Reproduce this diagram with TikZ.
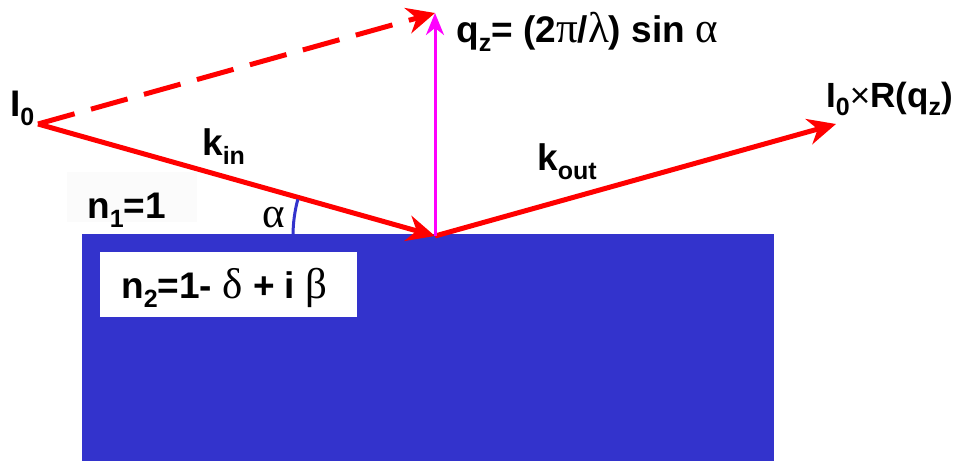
\documentclass[tikz,border=0pt]{standalone}
\usepackage{fontspec}
\setmainfont{Liberation Sans}
\newfontfamily\grk{Liberation Serif}
\usetikzlibrary{arrows.meta}
\definecolor{slab}{RGB}{51,51,204}
\definecolor{beam}{RGB}{255,0,0}
\definecolor{qvec}{RGB}{255,0,255}
\definecolor{faint}{RGB}{251,251,251}
\newcommand{\lowsub}[1]{\raisebox{-0.25em}{\fontsize{25}{25}\selectfont #1}}
\newcommand{\gk}[1]{{\grk\mdseries\fontsize{43}{43}\selectfont #1}}
\begin{document}
\begin{tikzpicture}[x=1pt,y=-1pt,
  lbl/.style={inner sep=0pt, anchor=base west, font=\fontsize{37}{42}\selectfont\bfseries},
  ray/.style={draw=beam, line width=5pt, -{Stealth[length=28pt,width=26pt,inset=9pt]}},
  qray/.style={draw=qvec, line width=3pt, -{Stealth[length=22pt,width=18pt,inset=7pt]}}]
\useasboundingbox (0,0) rectangle (956,461);
% media
\fill[slab] (82,234) rectangle (774,461);
\fill[white] (100,252) rectangle (357,317);
\fill[faint] (67,172) rectangle (197,222);
% points
\coordinate (src) at (38,124);
\coordinate (hit) at (435,236);
\coordinate (qtop) at (435,13);
\coordinate (outend) at (836,124);
% rays
\draw[ray, dash pattern=on 38pt off 17pt] (src) -- (qtop);
\draw[ray] (src) -- (hit);
\draw[ray] (hit) -- (outend);
\draw[qray] (hit) -- (qtop);
% angle
\draw[slab, line width=3pt] (hit) ++(180:142) arc[start angle=180, end angle=195, radius=142];
% labels
\node[lbl] (i0) at (10,116) {I\lowsub{0}};
\node[lbl] (kin) at (202,155) {k\lowsub{in}};
\node[lbl] (kout) at (537,170) {k\lowsub{out}};
\node[lbl] (qz) at (456,42) {q\lowsub{z}= (2\gk{π}/\gk{λ}) sin \gk{α}};
\node[lbl, font=\fontsize{35}{40}\selectfont\bfseries] (refl) at (826,107) {I\lowsub{0}{\mdseries ×}R(q\lowsub{z})};
\node[lbl] (n1) at (87,218) {n\lowsub{1}=1};
\node[lbl] (n2) at (121,298) {n\lowsub{2}=1- \gk{δ} + i \gk{β}};
\node[lbl] (alpha) at (262,227) {\gk{α}};
\end{tikzpicture}
\end{document}
